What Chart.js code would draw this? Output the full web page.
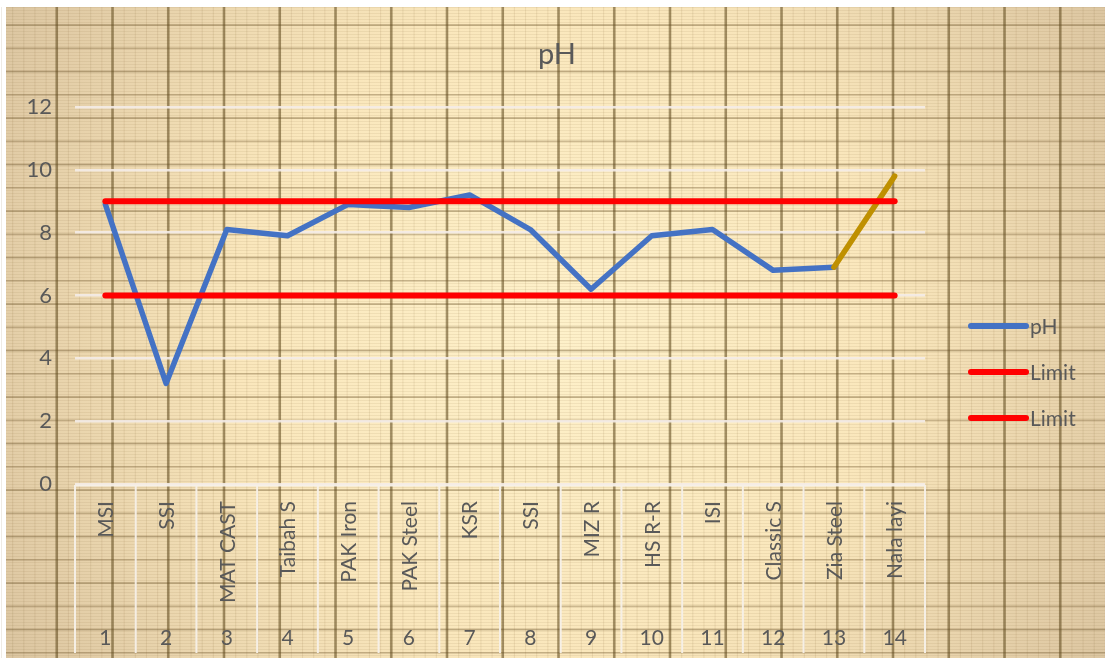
<!DOCTYPE html>
<html>
<head>
<meta charset="utf-8">
<script src="https://cdn.jsdelivr.net/npm/chart.js@4"></script>
<style>
  html, body { margin: 0; padding: 0; background: #ffffff; }
  #wrap { width: 1105px; height: 663px; }
</style>
</head>
<body>
<div id="wrap"><canvas id="c" width="1105" height="663"></canvas></div>
<script>
// Sampling sites and their sequence numbers
const categories = ['MSI', 'SSI', 'MAT CAST', 'Taibah S', 'PAK Iron', 'PAK Steel', 'KSR',
                    'SSI', 'MIZ R', 'HS R-R', 'ISI', 'Classic S', 'Zia Steel', 'Nala layi'];
const sampleNumbers = ['1', '2', '3', '4', '5', '6', '7', '8', '9', '10', '11', '12', '13', '14'];

// Measured pH at each site
const phValues = [8.9, 3.2, 8.1, 7.9, 8.9, 8.8, 9.2, 8.1, 6.2, 7.9, 8.1, 6.8, 6.9, 9.8];

// Permissible pH range
const upperLimit = [9, 9, 9, 9, 9, 9, 9, 9, 9, 9, 9, 9, 9, 9];
const lowerLimit = [6, 6, 6, 6, 6, 6, 6, 6, 6, 6, 6, 6, 6, 6];

// Value axis
const yMin = 0;
const yMax = 12;
const yStep = 2;

const FONT = 'Lato, "Open Sans", sans-serif';
const TEXT = '#595959';
const BLUE = '#4472C4';
const RED = '#FF0000';
const GOLD = '#BF9000';

// Parchment graph-paper fill behind the whole chart
function drawPaper(ctx, x0, y0, w, h) {
  const g = ctx.createRadialGradient(560, 330, 0, 560, 330, 720);
  g.addColorStop(0, 'rgb(254,241,202)');
  g.addColorStop(0.45, 'rgb(250,231,188)');
  g.addColorStop(1, 'rgb(212,189,154)');
  ctx.fillStyle = g;
  ctx.fillRect(x0, y0, w, h);

  // fine horizontal ruling
  ctx.fillStyle = 'rgba(150,118,70,0.11)';
  for (let y = y0; y < y0 + h; y += 3) ctx.fillRect(x0, y, w, 1);

  // minor vertical ruling
  ctx.fillStyle = 'rgba(130,100,55,0.13)';
  for (let x = 1; x < x0 + w; x += 55.75 / 5) ctx.fillRect(x, y0, 1, h);

  // major horizontal ruling
  let k = 0;
  for (let y = 1.75; y < y0 + h; y += 23.25, k++) {
    if (y < y0) continue;
    ctx.fillStyle = k % 2 ? 'rgba(105,82,40,0.42)' : 'rgba(105,82,40,0.32)';
    ctx.fillRect(x0, y - 0.75, w, 1.6);
  }

  // major vertical ruling
  ctx.fillStyle = 'rgba(95,72,30,0.55)';
  for (let x = 1; x < x0 + w; x += 55.75) {
    if (x < x0) continue;
    ctx.fillRect(x - 1.3, y0, 2.6, h);
  }
}

const paperPlugin = {
  id: 'paper',
  beforeDraw(chart) {
    const ctx = chart.ctx;
    ctx.save();
    ctx.fillStyle = '#ffffff';
    ctx.fillRect(0, 0, chart.width, chart.height);
    drawPaper(ctx, 6, 7, chart.width - 6, chart.height - 12);
    ctx.restore();
  }
};

// Title, two-level category labels and legend
const decorPlugin = {
  id: 'decor',
  afterDraw(chart) {
    const ctx = chart.ctx;
    const xs = chart.scales.x;
    const area = chart.chartArea;
    ctx.save();

    // title
    ctx.fillStyle = TEXT;
    ctx.font = '29px ' + FONT;
    ctx.textAlign = 'center';
    ctx.textBaseline = 'alphabetic';
    ctx.fillText('pH', 557, 64);

    // category separators
    const n = categories.length;
    const bounds = [area.left];
    for (let i = 1; i < n; i++) {
      bounds.push((xs.getPixelForValue(i - 1) + xs.getPixelForValue(i)) / 2);
    }
    bounds.push(area.right);
    ctx.strokeStyle = 'rgba(246,240,232,0.95)';
    ctx.lineWidth = 2;
    ctx.beginPath();
    bounds.forEach(b => { ctx.moveTo(b, area.bottom + 1); ctx.lineTo(b, 653); });
    ctx.moveTo(area.left, area.bottom + 1.5);
    ctx.lineTo(area.right, area.bottom + 1.5);
    ctx.stroke();

    // rotated site names and their numbers
    ctx.fillStyle = TEXT;
    categories.forEach((name, i) => {
      const cx = xs.getPixelForValue(i);
      ctx.save();
      ctx.translate(cx + 1, 501);
      ctx.rotate(-Math.PI / 2);
      ctx.font = '21px ' + FONT;
      ctx.textAlign = 'right';
      ctx.textBaseline = 'middle';
      ctx.fillText(name, 0, 0);
      ctx.restore();

      ctx.font = '21px ' + FONT;
      ctx.textAlign = 'center';
      ctx.textBaseline = 'middle';
      ctx.fillText(sampleNumbers[i], cx, 638);
    });

    // legend
    const rows = [326, 372, 418];
    chart.data.datasets.forEach((ds, i) => {
      const y = rows[i];
      ctx.strokeStyle = ds.borderColor;
      ctx.lineWidth = 6;
      ctx.lineCap = 'round';
      ctx.beginPath();
      ctx.moveTo(971, y);
      ctx.lineTo(1026, y);
      ctx.stroke();
      ctx.fillStyle = TEXT;
      ctx.font = '21px ' + FONT;
      ctx.textAlign = 'left';
      ctx.textBaseline = 'middle';
      ctx.fillText(ds.label, 1030, y + 1);
    });

    ctx.restore();
  }
};

new Chart(document.getElementById('c'), {
  type: 'line',
  data: {
    labels: categories,
    datasets: [
      {
        label: 'pH',
        data: phValues,
        borderColor: BLUE,
        borderWidth: 5.5,
        pointRadius: 0,
        tension: 0,
        borderCapStyle: 'round',
        borderJoinStyle: 'round',
        order: 2,
        segment: {
          borderColor: ctx => (ctx.p0DataIndex === 12 ? GOLD : undefined)
        }
      },
      {
        label: 'Limit',
        data: upperLimit,
        borderColor: RED,
        borderWidth: 6,
        pointRadius: 0,
        borderCapStyle: 'round',
        order: 1
      },
      {
        label: 'Limit',
        data: lowerLimit,
        borderColor: RED,
        borderWidth: 6,
        pointRadius: 0,
        borderCapStyle: 'round',
        order: 1
      }
    ]
  },
  options: {
    responsive: false,
    animation: false,
    devicePixelRatio: 1,
    layout: { padding: { left: 0, right: 180, top: 107, bottom: 179 } },
    plugins: {
      legend: { display: false },
      title: { display: false },
      tooltip: { enabled: false }
    },
    scales: {
      x: {
        type: 'category',
        offset: true,
        display: false
      },
      y: {
        min: yMin,
        max: yMax,
        afterFit(scale) { scale.width = 75; },
        border: { display: false },
        grid: {
          color: 'rgba(244,236,232,0.9)',
          lineWidth: 2.5,
          drawTicks: false
        },
        ticks: {
          stepSize: yStep,
          padding: 23,
          color: TEXT,
          font: { family: FONT, size: 22 }
        }
      }
    }
  },
  plugins: [paperPlugin, decorPlugin]
});
</script>
</body>
</html>
